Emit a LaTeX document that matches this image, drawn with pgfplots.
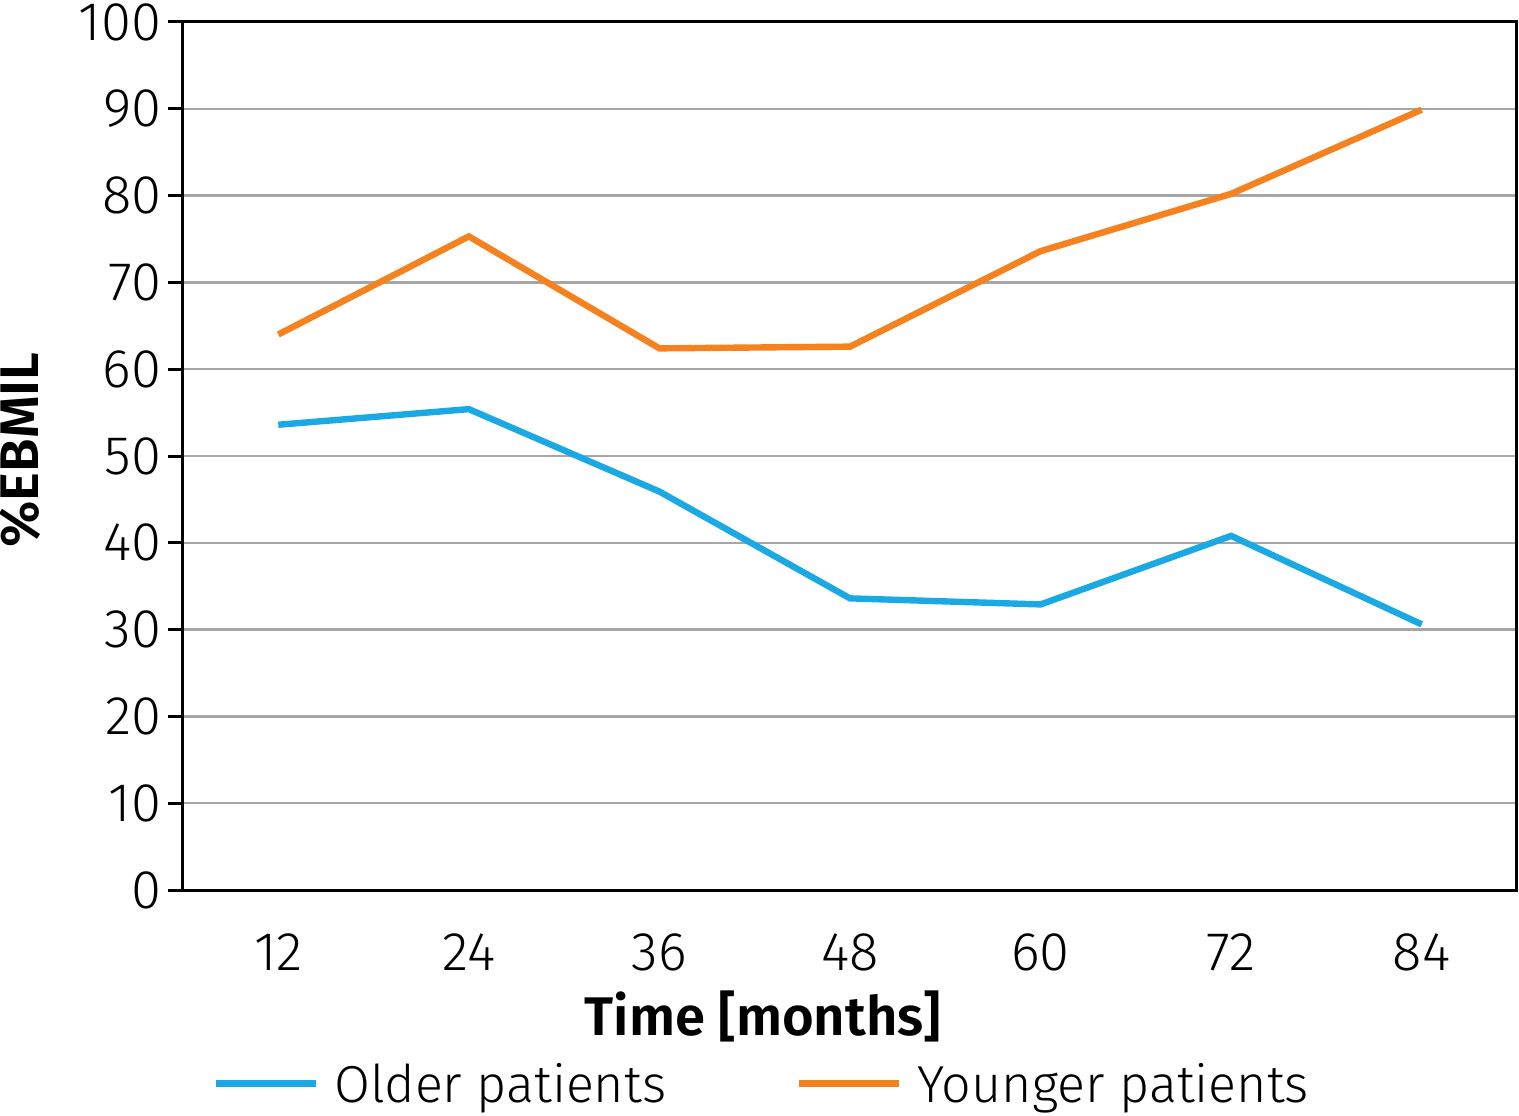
\documentclass[border=0pt]{standalone}
\usepackage{pgfplots}
\pgfplotsset{compat=1.18}
\usepackage{fontspec}
\setmainfont{Fira Sans Light}[BoldFont={Fira Sans SemiBold}]

\definecolor{olderblue}{HTML}{1BA9E3}
\definecolor{youngorange}{HTML}{F5821F}
\definecolor{gridgray}{HTML}{A6A6A6}

\begin{document}
\begin{tikzpicture}
\begin{axis}[
    scale only axis,
    width=333.5pt,
    height=217pt,
    xmin=6, xmax=90,
    ymin=0, ymax=100,
    xtick={12,24,36,48,60,72,84},
    ytick={0,10,...,100},
    ytick pos=left,
    ymajorgrids,
    grid style={gridgray, line width=0.6pt},
    axis line style={black, line width=0.75pt},
    x tick style={draw=none},
    y tick style={black, line width=0.75pt},
    tick align=outside,
    major tick length=3.75pt,
    /pgf/number format/assume math mode=true,
    tick label style={font=\fontsize{13.6}{15}\selectfont, inner sep=0pt},
    xticklabel style={anchor=base, yshift=-16.25pt},
    yticklabel style={anchor=east, xshift=-1.5pt},
    xlabel={Time [months]},
    ylabel={\%EBMIL},
    label style={font=\fontsize{13.6}{16}\selectfont\bfseries, inner sep=0pt},
    xlabel style={at={(axis description cs:0.4348,0)}, anchor=base, yshift=-36.25pt},
    ylabel style={at={(axis description cs:-0.1222,0.507)}, anchor=center},
    legend style={at={(axis description cs:0.0217,0)}, anchor=base west,
        yshift=-49pt, draw=none, fill=none, inner sep=0pt,
        nodes={inner sep=0pt},
        font=\fontsize{13}{15}\selectfont, legend columns=2,
        /tikz/every odd column/.append style={column sep=3.75pt},
        /tikz/every even column/.append style={column sep=32.5pt}},
    legend image code/.code={\draw[#1] (0pt,0.6pt) -- (25pt,0.6pt);},
]
\coordinate (sw) at (rel axis cs:0,0);
\coordinate (ne) at (rel axis cs:1,1);
\addplot[olderblue, line width=1.6pt] coordinates {
    (12,53.6) (24,55.4) (36,45.9) (48,33.6) (60,32.9) (72,40.8) (84,30.6)
};
\addlegendentry{Older patients}
\addplot[youngorange, line width=1.6pt] coordinates {
    (12,64.0) (24,75.3) (36,62.4) (48,62.6) (60,73.6) (72,80.2) (84,89.9)
};
\addlegendentry{Younger patients}
\end{axis}
\pgfresetboundingbox
\path ([shift={(-45.75pt,-56.25pt)}]sw) rectangle ([shift={(0.5pt,5.5pt)}]ne);
\end{tikzpicture}
\end{document}
